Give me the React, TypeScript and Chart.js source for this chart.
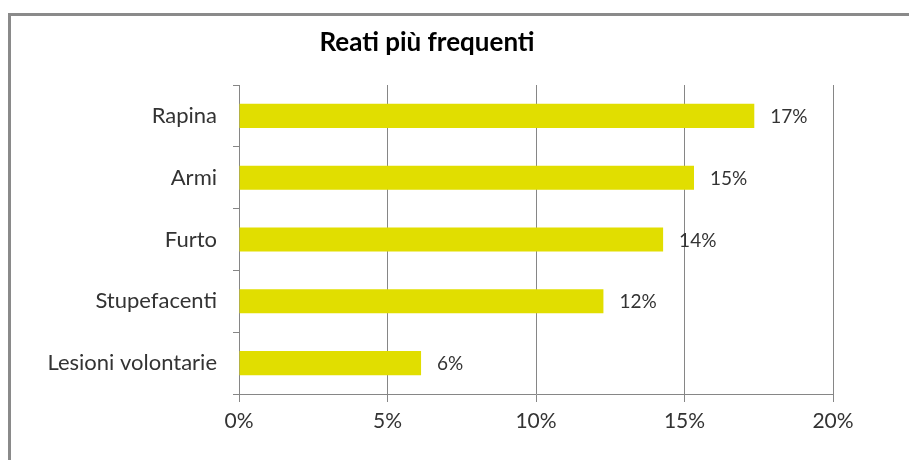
import React, { useEffect, useRef } from "react";
import { Chart, registerables } from "chart.js";

Chart.register(...registerables);

const categories = ["Rapina", "Armi", "Furto", "Stupefacenti", "Lesioni volontarie"];
const values = [17.35, 15.32, 14.28, 12.27, 6.13];
const valueLabels = ["17%", "15%", "14%", "12%", "6%"];
const xTicks = [0, 5, 10, 15, 20];
const titleText = "Reati più frequenti";

const FONT = "Lato, 'Open Sans', sans-serif";
const TEXT = "#333333";
const GRID = "#868686";
const BAR = "#E1DE00";

const titlePlugin = {
  id: "customTitle",
  afterDraw(chart: any) {
    const ctx = chart.ctx;
    ctx.save();
    ctx.font = `bold 26px ${FONT}`;
    ctx.fillStyle = "#000000";
    ctx.textAlign = "center";
    ctx.textBaseline = "alphabetic";
    ctx.fillText(titleText, 427, 51);
    ctx.restore();
  },
};

const valueLabelPlugin = {
  id: "valueLabels",
  afterDatasetsDraw(chart: any) {
    const ctx = chart.ctx;
    const meta = chart.getDatasetMeta(0);
    ctx.save();
    ctx.font = `19px ${FONT}`;
    ctx.fillStyle = TEXT;
    ctx.textAlign = "left";
    ctx.textBaseline = "middle";
    meta.data.forEach((bar: any, i: number) => {
      ctx.fillText(valueLabels[i], bar.x + 16, bar.y + 1);
    });
    ctx.restore();
  },
};

export default function App() {
  const ref = useRef<HTMLCanvasElement | null>(null);

  useEffect(() => {
    if (!ref.current) return;
    const chart = new Chart(ref.current, {
      type: "bar",
      data: {
        labels: categories,
        datasets: [
          {
            data: values,
            backgroundColor: BAR,
            borderWidth: 0,
            barPercentage: 0.39,
            categoryPercentage: 1,
          },
        ],
      },
      options: {
        indexAxis: "y",
        animation: false,
        responsive: false,
        maintainAspectRatio: false,
        layout: { padding: { top: 85, right: 76, bottom: 0, left: 0 } },
        plugins: {
          legend: { display: false },
          title: { display: false },
          tooltip: { enabled: false },
        },
        scales: {
          x: {
            type: "linear",
            min: 0,
            max: 20,
            afterBuildTicks(scale: any) {
              scale.ticks = xTicks.map((v) => ({ value: v }));
            },
            afterFit(scale: any) {
              scale.height = 66;
            },
            ticks: {
              callback: (v: any) => `${v}%`,
              color: TEXT,
              font: { family: FONT, size: 21 },
              padding: 7,
            },
            grid: {
              color: GRID,
              lineWidth: 1,
              drawTicks: true,
              tickLength: 8,
            },
            border: { display: true, color: GRID, width: 1 },
          },
          y: {
            afterFit(scale: any) {
              scale.width = 239;
            },
            ticks: {
              color: TEXT,
              font: { family: FONT, size: 22 },
              padding: 16,
            },
            grid: {
              drawOnChartArea: false,
              drawTicks: true,
              tickLength: 6,
              color: GRID,
              offset: true,
            },
            border: { display: true, color: GRID, width: 1 },
          },
        },
      },
      plugins: [titlePlugin, valueLabelPlugin],
    });
    return () => chart.destroy();
  }, []);

  return (
    <div
      style={{
        position: "fixed",
        left: 0,
        top: 0,
        width: 909,
        height: 460,
        overflow: "hidden",
        background: "#ffffff",
      }}
    >
      <div
        style={{
          position: "absolute",
          left: 8,
          top: 13,
          width: 1000,
          height: 1000,
          borderLeft: "3px solid #8a8a8a",
          borderTop: "3px solid #8a8a8a",
        }}
      />
      <canvas
        ref={ref}
        width={909}
        height={460}
        style={{ position: "absolute", left: 0, top: 0, width: 909, height: 460 }}
      />
    </div>
  );
}
